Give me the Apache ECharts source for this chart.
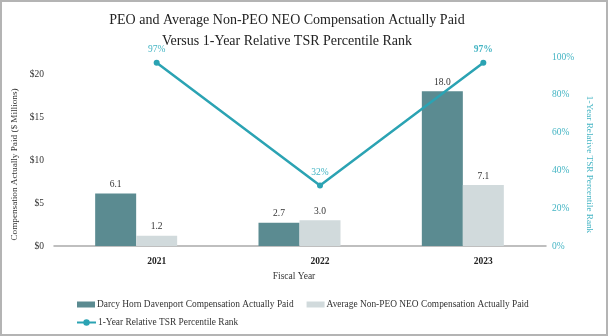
<!DOCTYPE html>
<html>
<head>
<meta charset="utf-8">
<script src="https://cdn.jsdelivr.net/npm/echarts@6/dist/echarts.min.js"></script>
<style>
  html, body { margin: 0; padding: 0; background: #fff; }
  #chart { position: absolute; left: 0; top: 0; width: 608px; height: 336px; }
  #frame { position: absolute; left: 0; top: 0; width: 608px; height: 336px;
           box-sizing: border-box; border: 2px solid #b4b4b4; pointer-events: none; }
</style>
</head>
<body>
<div id="chart"></div>
<div id="frame"></div>
<script>
// Fiscal years on the category axis
const years = ['2021', '2022', '2023'];
// Compensation actually paid, $ millions
const peoPaid = [6.1, 2.7, 18.0];
const nonPeoPaid = [1.2, 3.0, 7.1];
// 1-year relative TSR percentile rank, %
const tsrRank = [97, 32, 97];
// Left axis ticks ($M) and right axis ticks (%)
const compTicks = [0, 5, 10, 15, 20];
const pctTicks = [0, 20, 40, 60, 80, 100];

const serif = '"Liberation Serif", "DejaVu Serif", serif';
const DARK = '#5b8b91';
const LIGHT = '#d1dadc';
const TEAL = '#2ba3b3';
const TEAL_TEXT = '#45b5c4';
const TEXT = '#333333';

const chart = echarts.init(document.getElementById('chart'));

const compMax = 22;
const pctMax = 100;

chart.setOption({
  animation: false,
  backgroundColor: '#ffffff',
  title: {
    text: 'PEO and Average Non-PEO NEO Compensation Actually Paid\nVersus 1-Year Relative TSR Percentile Rank',
    left: 287,
    textAlign: 'center',
    top: 10,
    padding: 0,
    textStyle: { fontFamily: serif, fontSize: 14, fontWeight: 'normal', color: '#222', lineHeight: 21 }
  },
  legend: [
    {
      data: ['Darcy Horn Davenport Compensation Actually Paid', 'Average Non-PEO NEO Compensation Actually Paid'],
      left: 72, top: 295,
      itemWidth: 18, itemHeight: 6, itemGap: 13,
      icon: 'rect',
      textStyle: { fontFamily: serif, fontSize: 9.4, color: TEXT, padding: [0, 0, 0, -3] }
    },
    {
      data: ['1-Year Relative TSR Percentile Rank'],
      left: 71, top: 313,
      itemWidth: 19, itemHeight: 8,
      textStyle: { fontFamily: serif, fontSize: 9.4, color: TEXT, padding: [0, 0, 0, -3] }
    }
  ],
  grid: [
    // series grid: category centres sit under the year labels
    { left: 75, right: 43, top: 57, bottom: 90 },
    // axis grid: baseline and the two value axes
    { left: 54, right: 62, top: 57, bottom: 90 }
  ],
  xAxis: [
    {
      type: 'category', gridIndex: 0, data: years,
      axisLine: { show: false }, axisTick: { show: false },
      axisLabel: { fontFamily: serif, fontSize: 9.5, fontWeight: 'bold', color: '#222', margin: 11 }
    },
    {
      type: 'category', gridIndex: 1, data: years,
      axisLine: { show: true, lineStyle: { color: '#aaaaaa', width: 1.5 } },
      axisTick: { show: false }, axisLabel: { show: false },
      name: 'Fiscal Year', nameLocation: 'middle', nameGap: 25,
      nameTextStyle: { fontFamily: serif, fontSize: 9.5, color: TEXT, padding: [0, 12, 0, 0] }
    }
  ],
  yAxis: [
    { type: 'value', gridIndex: 0, min: 0, max: compMax, show: false },
    { type: 'value', gridIndex: 0, min: 0, max: pctMax, show: false, position: 'right' },
    {
      type: 'value', gridIndex: 1, min: 0, max: compMax, interval: 5, position: 'left',
      axisLine: { show: false }, axisTick: { show: false }, splitLine: { show: false },
      axisLabel: {
        fontFamily: serif, fontSize: 9.5, color: TEXT, margin: 10,
        formatter: v => compTicks.includes(v) ? '$' + v : ''
      },
      name: 'Compensation Actually Paid ($ Millions)', nameLocation: 'middle', nameGap: 29,
      nameTextStyle: { fontFamily: serif, fontSize: 9.2, color: TEXT, padding: [0, 26, 0, 0] }
    },
    {
      type: 'value', gridIndex: 1, min: 0, max: pctMax, interval: 20, position: 'right',
      axisLine: { show: false }, axisTick: { show: false }, splitLine: { show: false },
      axisLabel: {
        fontFamily: serif, fontSize: 9.5, color: TEAL_TEXT, margin: 6,
        formatter: v => pctTicks.includes(v) ? v + '%' : ''
      },
      name: '1-Year Relative TSR Percentile Rank', nameLocation: 'middle', nameGap: 37, nameRotate: -90,
      nameTextStyle: { fontFamily: serif, fontSize: 9.2, color: TEAL_TEXT, padding: [0, 0, 0, 26] }
    }
  ],
  series: [
    {
      name: 'Darcy Horn Davenport Compensation Actually Paid',
      type: 'bar', xAxisIndex: 0, yAxisIndex: 0,
      data: peoPaid, barWidth: 41, barGap: '0%',
      itemStyle: { color: DARK },
      label: { show: true, position: 'top', distance: 4, formatter: p => p.value.toFixed(1),
               fontFamily: serif, fontSize: 9.5, color: TEXT }
    },
    {
      name: 'Average Non-PEO NEO Compensation Actually Paid',
      type: 'bar', xAxisIndex: 0, yAxisIndex: 0,
      data: nonPeoPaid, barWidth: 41, barGap: '0%',
      itemStyle: { color: LIGHT },
      label: { show: true, position: 'top', distance: 4, formatter: p => p.value.toFixed(1),
               fontFamily: serif, fontSize: 9.5, color: TEXT }
    },
    {
      // empty third slot in each year group
      name: 'spacer', type: 'bar', xAxisIndex: 0, yAxisIndex: 0,
      data: years.map(() => null), barWidth: 41, barGap: '0%',
      itemStyle: { color: 'transparent' }
    },
    {
      name: '1-Year Relative TSR Percentile Rank',
      type: 'line', xAxisIndex: 0, yAxisIndex: 1,
      data: tsrRank.map((v, i) => ({
        value: v,
        label: i === tsrRank.length - 1 ? { fontWeight: 'bold' } : {}
      })),
      symbol: 'circle', symbolSize: 6,
      lineStyle: { color: TEAL, width: 2.5 },
      itemStyle: { color: TEAL },
      label: { show: true, position: 'top', distance: 5, formatter: p => p.value + '%',
               fontFamily: serif, fontSize: 9.5, color: TEAL_TEXT }
    }
  ]
});
</script>
</body>
</html>
